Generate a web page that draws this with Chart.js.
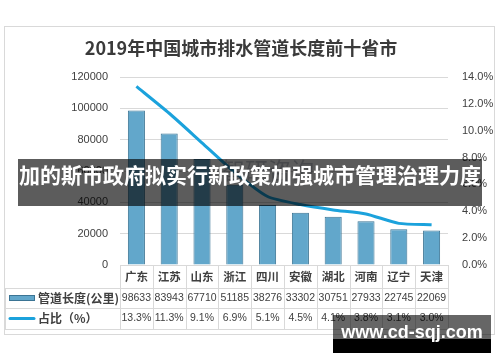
<!DOCTYPE html>
<html>
<head>
<meta charset="utf-8">
<script src="https://cdn.jsdelivr.net/npm/chart.js@4/dist/chart.umd.min.js"></script>
<style>
  body { margin: 0; background: #fff; }
  #wrap { position: relative; width: 500px; height: 362px; overflow: hidden; }
  #mark { position: absolute; left: 222px; top: 152px; font: 23px "Noto Sans CJK SC"; color: rgba(90,100,120,0.35); }
  #banner { position: absolute; left: 18px; top: 159px; width: 464px; height: 47px; line-height: 47px;
    background: rgba(0,0,0,0.64); color: #fff; font: bold 21px "Noto Sans CJK SC"; text-align: center; white-space: nowrap; }
  #site { position: absolute; left: 333px; top: 315px; width: 158px; height: 38px; }
  #site .top { position: absolute; left: 0; top: 0; width: 158px; height: 24px; background: rgba(0,0,0,0.6); }
  #site .bot { position: absolute; left: 0; top: 24px; width: 158px; height: 14px; background: #000; }
  #site .txt { position: absolute; left: 0; top: 7px; width: 158px; text-align: center; line-height: 24px;
    font: bold 18px "Liberation Sans"; color: #fff; }
</style>
</head>
<body>
<div id="wrap">
  <canvas id="chart" width="500" height="362"></canvas>
  <div id="mark">智研咨询</div>
  <div id="banner">加的斯市政府拟实行新政策加强城市管理治理力度</div>
  <div id="site"><div class="top"></div><div class="bot"></div><div class="txt">www.cd-sqj.com</div></div>
</div>
<script>
// chart data
const title = "2019年中国城市排水管道长度前十省市"
const categories = ["广东", "江苏", "山东", "浙江", "四川", "安徽", "湖北", "河南", "辽宁", "天津"]
const lengths = [98633, 83943, 67710, 51185, 38276, 33302, 30751, 27933, 22745, 22069]
const shares = [13.3, 11.3, 9.1, 6.9, 5.1, 4.5, 4.1, 3.8, 3.1, 3.0]
const lengthLabel = "管道长度(公里)"
const shareLabel = "占比（%）"

const barColor = "#62a7cb"
const barBorder = "#3b7494"
const lineColor = "#1ba2dc"
const gridColor = "#d9d9d9"
const textColor = "#404040"
const numFont = "10.5px 'Liberation Sans'"
const cjkFont = "'Noto Sans CJK SC'"

// frame, title and the data table under the plot
const tablePlugin = {
	id: "tablePlugin",
	beforeDraw: (chart) => {
		const ctx = chart.ctx
		ctx.save()
		ctx.fillStyle = "#fff"
		ctx.fillRect(0, 0, chart.width, chart.height)
		ctx.strokeStyle = gridColor
		ctx.lineWidth = 1
		ctx.strokeRect(4.5, 26.5, 490, 308)
		ctx.restore()
	},
	afterDraw: (chart) => {
		const ctx = chart.ctx
		const x = chart.scales.x
		const area = chart.chartArea
		const colW = x.getPixelForValue(1) - x.getPixelForValue(0)
		const left = x.getPixelForValue(0) - colW / 2
		const right = left + colW * categories.length
		const rows = [area.bottom, 288, 308, 329]
		ctx.save()

		ctx.fillStyle = "#3a3a3a"
		ctx.font = "bold 18px " + cjkFont
		ctx.textAlign = "center"
		ctx.textBaseline = "middle"
		ctx.fillText(title, 241, 48)

		// grid of the table
		ctx.strokeStyle = gridColor
		ctx.lineWidth = 1
		ctx.beginPath()
		ctx.moveTo(left, Math.round(rows[0]) + 0.5)
		ctx.lineTo(right, Math.round(rows[0]) + 0.5)
		for (let r = 1; r < rows.length; r++) {
			ctx.moveTo(5, rows[r] + 0.5)
			ctx.lineTo(right, rows[r] + 0.5)
		}
		ctx.moveTo(5.5, rows[1])
		ctx.lineTo(5.5, rows[3])
		for (let i = 0; i <= categories.length; i++) {
			const px = Math.round(left + i * colW) + 0.5
			ctx.moveTo(px, rows[0])
			ctx.lineTo(px, rows[3])
		}
		ctx.stroke()

		// cells
		ctx.fillStyle = textColor
		categories.forEach((c, i) => {
			const cx = x.getPixelForValue(i)
			ctx.font = "bold 11.5px " + cjkFont
			ctx.fillText(c, cx, (rows[0] + rows[1]) / 2)
			ctx.font = numFont
			ctx.fillText(String(lengths[i]), cx, (rows[1] + rows[2]) / 2)
			ctx.fillText(shares[i].toFixed(1) + "%", cx, (rows[2] + rows[3]) / 2)
		})

		// legend keys in the first column
		const y2 = (rows[1] + rows[2]) / 2
		const y3 = (rows[2] + rows[3]) / 2
		ctx.fillStyle = barColor
		ctx.fillRect(9, y2 - 3, 26, 6)
		ctx.strokeStyle = barBorder
		ctx.strokeRect(9.5, y2 - 2.5, 25, 5)
		ctx.strokeStyle = lineColor
		ctx.lineWidth = 3
		ctx.lineCap = "round"
		ctx.beginPath()
		ctx.moveTo(10, y3)
		ctx.lineTo(34, y3)
		ctx.stroke()
		ctx.fillStyle = textColor
		ctx.textAlign = "left"
		ctx.font = "bold 12px " + cjkFont
		ctx.fillText(lengthLabel, 38, y2)
		ctx.fillText(shareLabel, 38, y3)
		ctx.restore()
	}
}

const datasets = [
	{
		type: "line",
		label: shareLabel,
		data: shares,
		yAxisID: "y1",
		borderColor: lineColor,
		borderWidth: 3,
		pointRadius: 0,
		tension: 0.2,
		order: 0
	},
	{
		type: "bar",
		label: lengthLabel,
		data: lengths,
		yAxisID: "y",
		backgroundColor: barColor,
		borderColor: barBorder,
		borderWidth: 1,
		categoryPercentage: 1,
		barPercentage: 0.52,
		order: 1
	}
]

new Chart(document.getElementById("chart"), {
	type: "bar",
	data: {labels: categories, datasets: datasets},
	options: {
		responsive: false,
		animation: false,
		layout: {padding: {left: 0, right: 0, top: 77, bottom: 97}},
		plugins: {legend: {display: false}, tooltip: {enabled: false}, title: {display: false}},
		scales: {
			x: {type: "category", offset: true, display: false},
			y: {
				position: "left",
				min: 0,
				max: 120000,
				ticks: {stepSize: 20000, padding: 12, color: textColor, font: {family: "Liberation Sans", size: 11},
					callback: (v) => String(v)},
				grid: {color: gridColor, drawTicks: false},
				border: {display: false},
				afterFit: (s) => { s.width = 120 }
			},
			y1: {
				position: "right",
				min: 0,
				max: 14,
				ticks: {stepSize: 2, padding: 14, color: textColor, font: {family: "Liberation Sans", size: 11},
					callback: (v) => v.toFixed(1) + "%"},
				grid: {display: false, drawTicks: false},
				border: {display: false},
				afterFit: (s) => { s.width = 52 }
			}
		}
	},
	plugins: [tablePlugin]
})
</script>
</body>
</html>
